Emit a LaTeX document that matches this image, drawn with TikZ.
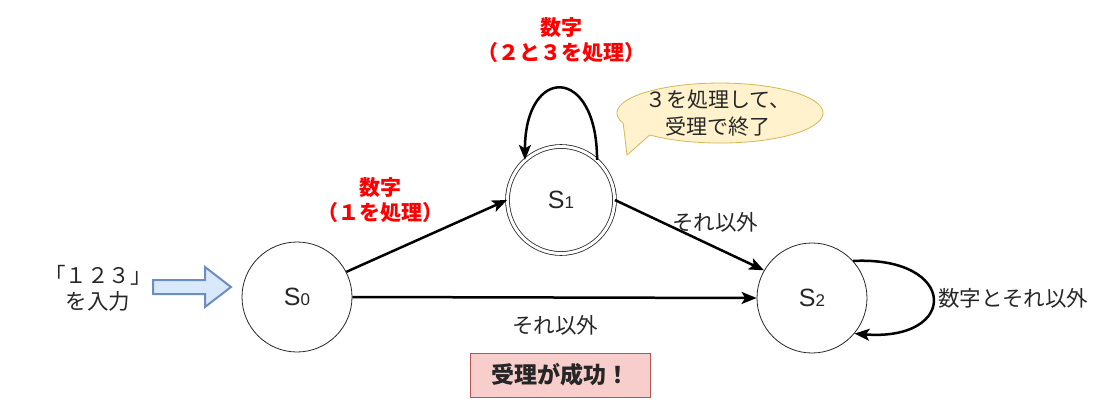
\documentclass[tikz,border=0pt]{standalone}
\usepackage{fontspec}
\setmainfont{Noto Sans CJK JP}
\newfontfamily\latinfont{Liberation Sans}
\usetikzlibrary{arrows.meta}
\definecolor{txt}{HTML}{262626}
\definecolor{redtxt}{HTML}{FF0000}
\definecolor{bluefill}{HTML}{DAE8FC}
\definecolor{bluedraw}{HTML}{6C8EBF}
\definecolor{yelfill}{HTML}{FFF2CC}
\definecolor{yeldraw}{HTML}{D6B656}
\definecolor{pinkfill}{HTML}{F8CECC}
\definecolor{pinkdraw}{HTML}{B85450}
\newcommand{\stlabel}[1]{{\latinfont\fontsize{25}{25}\selectfont S\fontsize{17}{17}\selectfont #1}}
\begin{document}
\begin{tikzpicture}[x=1pt,y=-1pt,
  state/.style={circle,draw=txt,line width=0.8pt,minimum size=110pt,inner sep=0pt,text=txt},
  accstate/.style={circle,draw=txt,line width=0.8pt,double,double distance=3pt,minimum size=107pt,inner sep=0pt,text=txt},
  lbl/.style={text=txt,font=\fontsize{21.5}{26}\selectfont,inner sep=1pt},
  redlbl/.style={text=redtxt,font=\bfseries\fontsize{21}{25}\selectfont,align=center,inner sep=1pt},
  conn/.style={line width=2.5pt,draw=black,-{Stealth[length=15pt,width=12pt,inset=3.5pt]}}
]
\useasboundingbox (0,0) rectangle (1109,404);

% states
\node[state] (s0) at (297,297) {\stlabel{0}};
\node[accstate] (s1) at (561,200) {\stlabel{1}};
\node[state] (s2) at (812,298) {\stlabel{2}};

% input
\node[lbl,align=center] (inp) at (98,288) {「１２３」\\を入力};
\draw[fill=bluefill,draw=bluedraw,line width=2pt,line join=miter]
  (153,280) -- (205,280) -- (205,267) -- (231,287) -- (205,307) -- (205,294) -- (153,294) -- cycle;

% transitions
\draw[conn] (s0.27) -- (s1.180);
\draw[conn] (s1.0) -- (s2.150);
\draw[conn] (s0.0) -- (s2.180);
\draw[conn] (s1.48) .. controls +(0,-95) and +(0,-95) .. (s1.132);
\draw[conn] (s2.42) .. controls +(105,-5) and +(105,8) .. (s2.-40);

% labels
\node[redlbl] (l01) at (380,200) {数字\\（１を処理）};
\node[redlbl] (l11) at (561,40) {数字\\（２と３を処理）};
\node[lbl] (l12) at (715,222) {それ以外};
\node[lbl] (l02) at (555,325) {それ以外};
\node[lbl,anchor=west] (l22) at (937,298) {数字とそれ以外};

% speech bubble
\draw[fill=yelfill,draw=yeldraw,line width=0.8pt]
  (627,155) -- (623.2,123.3) arc (-200:133:103 and 30) -- cycle;
\node[lbl,align=center,font=\fontsize{21}{27}\selectfont] (note) at (718,113) {３を処理して、\\受理で終了};

% result box
\node[draw=pinkdraw,fill=pinkfill,line width=0.8pt,minimum width=180pt,minimum height=44pt,
  text=txt,font=\bfseries\fontsize{23}{23}\selectfont] (ok) at (560,375) {受理が成功！};
\end{tikzpicture}
\end{document}
